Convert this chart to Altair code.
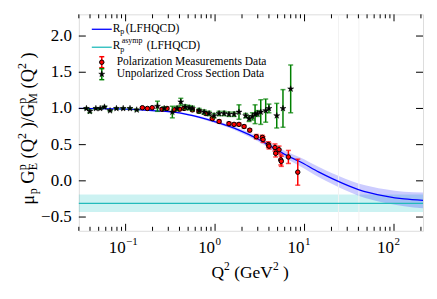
import altair as alt
import pandas as pd

FONT = "Liberation Serif"

# ---------------- data ----------------
curve_q2 = [0.03, 0.1, 0.2, 0.4, 0.66, 1.1, 1.85, 3.1, 5.0, 6.6, 8.7, 14.5, 20.4, 40, 80, 130, 211]
curve_r = [1.00, 0.99, 0.97, 0.94, 0.88, 0.80, 0.70, 0.57, 0.42, 0.34, 0.27, 0.12, 0.03, -0.12, -0.21, -0.25, -0.27]
curve_err = [0.003, 0.005, 0.008, 0.012, 0.015, 0.02, 0.025, 0.035, 0.045, 0.05, 0.06, 0.07, 0.075, 0.085, 0.095, 0.10, 0.11]

asymp_r = -0.31
asymp_err = 0.12

pol_q2 = [0.154, 0.175, 0.198, 0.256, 0.29, 0.35, 0.40, 0.45, 0.558, 0.66, 0.79, 0.93, 1.11, 1.43, 1.63,
          1.85, 2.11, 2.44, 2.89, 3.37, 3.44, 3.94, 4.01, 4.67, 4.76, 5.19, 5.42, 5.5, 6.6, 8.4]
pol_r = [1.01, 1.00, 1.01, 0.99, 1.00, 0.98, 0.99, 1.00, 0.98, 0.96, 0.93, 0.86, 0.82, 0.79, 0.78,
         0.78, 0.75, 0.70, 0.61, 0.60, 0.57, 0.50, 0.48, 0.46, 0.38, 0.43, 0.29, 0.27, 0.33, 0.12]
pol_err = [0.01, 0.01, 0.01, 0.02, 0.02, 0.02, 0.02, 0.02, 0.02, 0.02, 0.02, 0.02, 0.02, 0.02, 0.02,
           0.02, 0.02, 0.02, 0.03, 0.03, 0.04, 0.04, 0.04, 0.05, 0.05, 0.05, 0.07, 0.07, 0.09, 0.18]

unp_q2 = [0.0365, 0.0398, 0.0465, 0.052, 0.058, 0.067, 0.079, 0.094, 0.112, 0.133, 0.227, 0.27, 0.333,
          0.376, 0.414, 0.462, 0.512, 0.558, 0.663, 0.754, 0.857, 0.974, 1.108, 1.26, 1.43, 1.63, 1.85,
          2.2, 2.4, 2.61, 2.8, 2.97, 3.24, 3.68, 4.0, 4.89, 5.74, 7.0]
unp_r = [1.00, 0.96, 1.00, 1.00, 1.02, 0.97, 1.00, 1.00, 1.00, 0.98, 1.03, 1.00, 0.95,
         1.00, 1.09, 1.02, 1.01, 1.00, 0.97, 0.95, 0.93, 0.90, 0.93, 0.93, 0.92, 0.92, 0.95,
         0.90, 0.86, 0.89, 0.92, 0.93, 0.95, 0.97, 1.00, 0.90, 1.00, 1.27]
unp_err = [0.01, 0.02, 0.01, 0.01, 0.01, 0.01, 0.01, 0.01, 0.01, 0.01, 0.07, 0.02, 0.08,
           0.03, 0.05, 0.03, 0.03, 0.03, 0.03, 0.03, 0.03, 0.03, 0.03, 0.03, 0.03, 0.03, 0.10,
           0.03, 0.04, 0.05, 0.13, 0.04, 0.17, 0.16, 0.06, 0.17, 0.26, 0.33]

faint_lines_q2 = [24.0, 40.5]

x_major = [0.1, 1, 10, 100]
x_major_exp = ["−1", "0", "1", "2"]
x_minor = [0.03, 0.04, 0.05, 0.06, 0.07, 0.08, 0.09,
           0.2, 0.3, 0.4, 0.5, 0.6, 0.7, 0.8, 0.9,
           2, 3, 4, 5, 6, 7, 8, 9,
           20, 30, 40, 50, 60, 70, 80, 90, 200]
y_major = [-0.5, 0.0, 0.5, 1.0, 1.5, 2.0]
y_labels = ["−0.5", "0.0", "0.5", "1.0", "1.5", "2.0"]

# ---------------- layout ----------------
W, H = 345, 217
xs = alt.Scale(type="log", domain=[0.03, 211], nice=False)
ys = alt.Scale(domain=[-0.69, 2.30], nice=False, zero=False)

curve = pd.DataFrame({"q2": curve_q2, "r": curve_r,
                      "lo": [a - b for a, b in zip(curve_r, curve_err)],
                      "hi": [a + b for a, b in zip(curve_r, curve_err)]})
pol = pd.DataFrame({"q2": pol_q2, "r": pol_r,
                    "lo": [a - b for a, b in zip(pol_r, pol_err)],
                    "hi": [a + b for a, b in zip(pol_r, pol_err)]})
unp = pd.DataFrame({"q2": unp_q2, "r": unp_r,
                    "lo": [a - b for a, b in zip(unp_r, unp_err)],
                    "hi": [a + b for a, b in zip(unp_r, unp_err)]})
asym = pd.DataFrame({"r": [asymp_r], "lo": [asymp_r - asymp_err], "hi": [asymp_r + asymp_err]})
one = pd.DataFrame({"a": [0]})


def X(f):
    return alt.X(f, scale=xs, axis=None)


def Y(f):
    return alt.Y(f, scale=ys, axis=None)


STAR = "M0,-1L0.2245,-0.309L0.951,-0.309L0.363,0.118L0.588,0.809L0,0.382L-0.588,0.809L-0.363,0.118L-0.951,-0.309L-0.2245,-0.309Z"

layers = []

# asymptotic band
layers.append(alt.Chart(asym).mark_rect(color="#00bfbf", opacity=0.2).encode(
    x=alt.value(0), x2=alt.value(W), y=Y("lo:Q"), y2="hi:Q"))
# Rp band
layers.append(alt.Chart(curve).mark_area(color="#0000ff", opacity=0.2, interpolate="monotone").encode(
    x=X("q2:Q"), y=Y("lo:Q"), y2="hi:Q"))
# faint vertical lines
layers.append(alt.Chart(pd.DataFrame({"q2": faint_lines_q2})).mark_rule(color="#f2f2f2", strokeWidth=1).encode(
    x=X("q2:Q"), y=alt.value(0), y2=alt.value(H)))
# asymptote line
layers.append(alt.Chart(asym).mark_rule(color="#22bbbb", strokeWidth=1.2).encode(
    x=alt.value(0), x2=alt.value(W), y=Y("r:Q")))
# Rp line
layers.append(alt.Chart(curve).mark_line(color="#0000ff", strokeWidth=1.3, interpolate="monotone").encode(
    x=X("q2:Q"), y=Y("r:Q")))
# polarization data
layers.append(alt.Chart(pol).mark_rule(color="#ff0000", strokeWidth=1.5).encode(
    x=X("q2:Q"), y=Y("lo:Q"), y2="hi:Q"))
for f in ("lo:Q", "hi:Q"):
    layers.append(alt.Chart(pol).mark_tick(color="#ff0000", orient="horizontal", size=5, thickness=1.5).encode(
        x=X("q2:Q"), y=Y(f)))
layers.append(alt.Chart(pol).mark_point(shape="circle", filled=True, fill="#ff0000", stroke="black",
                                        strokeWidth=1, size=20, opacity=1).encode(
    x=X("q2:Q"), y=Y("r:Q")))
# unpolarized data
layers.append(alt.Chart(unp).mark_rule(color="#008000", strokeWidth=1.5).encode(
    x=X("q2:Q"), y=Y("lo:Q"), y2="hi:Q"))
for f in ("lo:Q", "hi:Q"):
    layers.append(alt.Chart(unp).mark_tick(color="#008000", orient="horizontal", size=5, thickness=1.5).encode(
        x=X("q2:Q"), y=Y(f)))
layers.append(alt.Chart(unp).mark_point(shape=STAR, filled=True, fill="black", stroke="black",
                                        strokeWidth=0.5, size=40, opacity=1).encode(
    x=X("q2:Q"), y=Y("r:Q")))

# inward ticks
xmaj = pd.DataFrame({"q2": x_major, "e": x_major_exp})
xmin = pd.DataFrame({"q2": x_minor})
ymaj = pd.DataFrame({"r": y_major, "lab": y_labels})
for df, ln in ((xmaj, 7), (xmin, 4)):
    layers.append(alt.Chart(df).mark_rule(color="black", strokeWidth=1).encode(
        x=X("q2:Q"), y=alt.value(H), y2=alt.value(H - ln)))
    layers.append(alt.Chart(df).mark_rule(color="black", strokeWidth=1).encode(
        x=X("q2:Q"), y=alt.value(0), y2=alt.value(ln)))
layers.append(alt.Chart(ymaj).mark_rule(color="black", strokeWidth=1).encode(
    y=Y("r:Q"), x=alt.value(0), x2=alt.value(7)))
layers.append(alt.Chart(ymaj).mark_rule(color="black", strokeWidth=1).encode(
    y=Y("r:Q"), x=alt.value(W), x2=alt.value(W - 7)))

# tick labels
TFS = 17
layers.append(alt.Chart(xmaj).mark_text(text="10", font=FONT, fontSize=TFS, align="right",
                                        baseline="middle", color="black").encode(
    x=X("q2:Q"), y=alt.value(H + 17)))
layers.append(alt.Chart(xmaj).mark_text(font=FONT, fontSize=11, align="left",
                                        baseline="middle", color="black", dx=0.5).encode(
    x=X("q2:Q"), y=alt.value(H + 11), text="e:N"))
layers.append(alt.Chart(ymaj).mark_text(font=FONT, fontSize=TFS, align="right",
                                        baseline="middle", color="black").encode(
    y=Y("r:Q"), x=alt.value(-7), text="lab:N"))


def txt(s, x, y, size, angle=0, align="left"):
    return alt.Chart(one).mark_text(text=s, font=FONT, fontSize=size, angle=angle, align=align,
                                    baseline="middle", color="black").encode(
        x=alt.value(x), y=alt.value(y))


# ---------------- legend ----------------
LFS = 11.5
SFS = 8
layers.append(alt.Chart(one).mark_rule(color="#0000ff", strokeWidth=1.3).encode(
    x=alt.value(13), x2=alt.value(33), y=alt.value(15)))
layers.append(txt("R", 34, 14.5, LFS))
layers.append(txt("p", 41.5, 18, SFS))
layers.append(txt("(LFHQCD)", 47, 14.5, LFS))
layers.append(alt.Chart(one).mark_rule(color="#22bbbb", strokeWidth=1.3).encode(
    x=alt.value(13), x2=alt.value(33), y=alt.value(33)))
layers.append(txt("R", 34, 32, LFS))
layers.append(txt("p", 41.5, 36, SFS))
layers.append(txt("asymp", 43, 27, SFS))
layers.append(txt("(LFHQCD)", 68, 32, LFS))
for yy, col, shape, fill, sz in ((48, "#ff0000", "circle", "#ff0000", 20), (60, "#008000", STAR, "black", 40)):
    layers.append(alt.Chart(one).mark_rule(color=col, strokeWidth=1.5).encode(
        x=alt.value(23), y=alt.value(yy - 5.5), y2=alt.value(yy + 5.5)))
    for cy in (yy - 5.5, yy + 5.5):
        layers.append(alt.Chart(one).mark_rule(color=col, strokeWidth=1.5).encode(
            x=alt.value(20.5), x2=alt.value(25.5), y=alt.value(cy)))
    layers.append(alt.Chart(one).mark_point(shape=shape, filled=True, fill=fill, stroke="black",
                                            strokeWidth=1 if shape == "circle" else 0.5,
                                            size=sz, opacity=1).encode(
        x=alt.value(23), y=alt.value(yy)))
layers.append(txt("Polarization Measurements Data", 38, 48, LFS))
layers.append(txt("Unpolarized Cross Section Data", 38, 60, LFS))

# ---------------- composed titles ----------------
WID = {"μ": 0.576, "p": 0.5, "G": 0.722, "E": 0.611, "M": 0.889, "(": 0.333, ")": 0.333, "Q": 0.722,
       "/": 0.278, "2": 0.5, " ": 0.25, "e": 0.444, "V": 0.722}


def wdt(s, fs):
    return sum(WID.get(c, 0.5) for c in s) * fs


def compose(pieces, bx, by, bf, sf, angle, sub_shift, sup_shift):
    """Lay out text pieces along the reading direction; spaces become gaps."""
    off = 0.0
    out = []
    for p, kind in pieces:
        if kind == "ss":
            items = [(p[0], sup_shift, sf), (p[1], sub_shift, sf)]
            adv = max(wdt(p[0], sf), wdt(p[1], sf))
            lead = 0.0
        else:
            fs = bf if kind == "n" else sf
            sh = 0 if kind == "n" else (sub_shift if kind == "sub" else sup_shift)
            stripped = p.lstrip(" ")
            lead = wdt(p[:len(p) - len(stripped)], fs)
            items = [(stripped, sh, fs)]
            adv = wdt(p, fs)
        for s, sh, fs in items:
            if angle == 270:
                out.append(txt(s, bx + sh, by - off - lead, fs, angle=270))
            else:
                out.append(txt(s, bx + off + lead, by + sh, fs))
        off += adv
    return out


ypieces = [("μ", "n"), ("p", "sub"), (" G", "n"), (("p", "E"), "ss"), (" (Q", "n"), ("2", "sup"),
           (" )/G", "n"), (("p", "M"), "ss"), (" (Q", "n"), ("2", "sup"), (" )", "n")]
layers += compose(ypieces, -51, 191, 18.5, 12, 270, 5, -6)

xpieces = [("Q", "n"), ("2", "sup"), (" (GeV", "n"), ("2", "sup"), (" )", "n")]
layers += compose(xpieces, 133, 259, 17.5, 11.5, 0, 5, -6)

chart = alt.layer(*layers).properties(
    width=W, height=H,
    autosize=alt.AutoSizeParams(type="none"),
    padding={"left": 71, "top": 6, "right": 6, "bottom": 55},
).configure_view(stroke="black", strokeWidth=2).configure(background="white")

chart.save("out.html", embed_options={"renderer": "svg", "actions": False})
